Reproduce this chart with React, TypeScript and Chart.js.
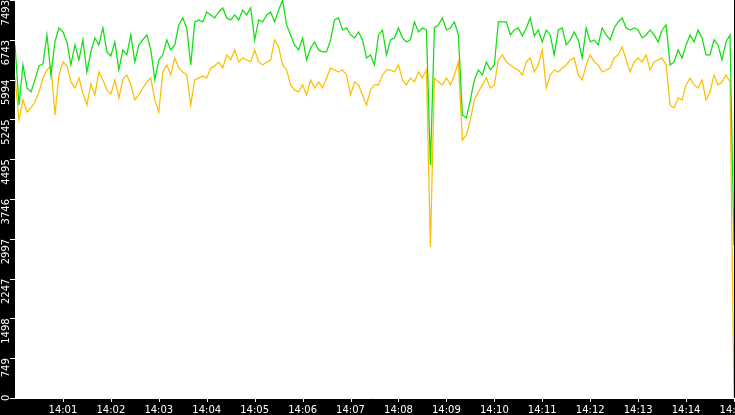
import { useEffect, useRef } from 'react';
import { Chart, registerables, Plugin } from 'chart.js';

Chart.register(...registerables);

// one sample every 5 seconds from 14:00:00 to 14:15:00
const SAMPLE_SECONDS = 5;
const X_MAX_SECONDS = 900;
const X_TICK_LABELS = [
	'14:01', '14:02', '14:03', '14:04', '14:05', '14:06', '14:07', '14:08',
	'14:09', '14:10', '14:11', '14:12', '14:13', '14:14', '14:15',
];

const Y_MAX = 7493;
const Y_TICK_LABELS = ['0', '749', '1498', '2247', '2997', '3746', '4495', '5245', '5994', '6743', '7493'];

const GREEN = [
	6647, 5517, 6270, 5837, 5762, 5988, 6252, 6289, 6835, 6082, 6704, 6967, 6892, 6704, 6270, 6647,
	6364, 6741, 6138, 6516, 6779, 6647, 6967, 6516, 6440, 6704, 6176, 6553, 6459, 6835, 6327,
	6647, 6741, 6835, 6553, 5988, 6364, 6459, 6741, 6553, 6647, 7024, 7155, 6967, 6270, 7080, 7118,
	7080, 7268, 7212, 7155, 7268, 7343, 7155, 7118, 7212, 7118, 7306, 7212,
	7343, 6741, 7118, 7080, 7212, 7268, 7080, 7306, 7493, 7024, 6835, 6647, 6553, 6779, 6364, 6591,
	6704, 6553, 6516, 6516, 6741, 7118, 7155, 6929, 6967, 6835, 6779, 6892, 6741, 6402, 6459, 6270,
	6835, 6929, 6459,
	6741, 6779, 6967, 6779, 6704, 6741, 7080, 6892, 6967, 6929, 4387, 6967, 7024, 7155, 6929, 6967,
	7080, 6835, 5329, 5273, 5611, 5988, 6176, 6082, 6327, 6176, 6270, 7080, 7080,
	7080, 6835, 6929, 6967, 6817, 6967, 7155, 6817, 6929, 6704, 6929, 6835, 6459, 6929, 6967, 6647,
	6741, 6892, 6741, 6402, 6967, 6704, 6741, 6647, 6967, 6835,
	6741, 6967, 7080, 7155, 6967, 6929, 6967, 6929, 6779, 6835, 6929, 6835, 6704, 6929, 7024, 6270,
	6327, 6553, 6402, 6647, 6835, 6704, 6929, 6779, 6459, 6459, 6741, 6647, 6364, 6704, 6835, 2881,
];

const ORANGE = [
	6044, 5235, 5611, 5385, 5461, 5574, 5762, 6026, 6176, 6252, 5329, 6082, 6327, 6252, 5950, 5837,
	6026, 5743, 5517, 5912, 5705, 6138, 5988, 5800, 5724, 5988, 5649, 6000, 6082, 5894, 5611,
	5705, 5837, 5950, 6026, 5611, 5385, 6138, 6270, 6082, 6402, 6214, 6138, 6082, 5517, 5988, 6026,
	6063, 6026, 6214, 6252, 6327, 6214, 6459, 6364, 6553, 6327, 6402, 6364,
	6327, 6553, 6327, 6270, 6327, 6364, 6741, 6610, 6270, 6176, 5894, 5800, 5762, 5894, 5705, 5988,
	5837, 5950, 5837, 6026, 6214, 6176, 6138, 6176, 6082, 5705, 5950, 5894, 5705, 5517, 5800, 5894,
	5894, 6082, 6176,
	6176, 6138, 6270, 5988, 5894, 6026, 5950, 6138, 6026, 6176, 2843, 6026, 5950, 5894, 6026, 5894,
	6082, 6327, 4858, 4952, 5235, 5611, 5762, 5894, 6026, 5837, 5894, 6364, 6459,
	6327, 6270, 6214, 6176, 6082, 6327, 6402, 6138, 6270, 6553, 5837, 6082, 6176, 6138, 6214, 6270,
	6364, 6402, 6082, 5988, 6270, 6459, 6327, 6270, 6138, 6176,
	6214, 6402, 6459, 6610, 6364, 6138, 6327, 6402, 6327, 6459, 6176, 6327, 6364, 6402, 6270, 5517,
	5461, 5649, 5611, 5894, 6026, 5894, 5837, 5988, 5611, 5762, 6082, 5894, 5950, 6082, 5950, 0,
];

const FONT = '10px "DejaVu Sans"';

// black frame, white plot, white ticks and rotated y labels
const framePlugin: Plugin<'line'> = {
	id: 'frame',
	beforeDraw(chart) {
		const { ctx, width, height, chartArea: a } = chart;
		ctx.save();
		ctx.fillStyle = '#000';
		ctx.fillRect(0, 0, width, height);
		ctx.fillStyle = '#fff';
		ctx.fillRect(a.left, a.top, a.right - a.left, a.bottom - a.top);
		ctx.restore();
	},
	afterDraw(chart) {
		const { ctx, chartArea: a, scales } = chart;
		const xs = scales.x;
		const ys = scales.y;
		ctx.save();
		ctx.strokeStyle = '#fff';
		ctx.fillStyle = '#fff';
		ctx.lineWidth = 1;
		ctx.font = FONT;

		ctx.beginPath();
		ctx.moveTo(10, a.bottom + 0.5);
		ctx.lineTo(chart.width, a.bottom + 0.5);

		Y_TICK_LABELS.forEach((_, i) => {
			const y = Math.round(ys.getPixelForValue((i * Y_MAX) / 10)) + 0.5;
			ctx.moveTo(10, y);
			ctx.lineTo(a.left, y);
		});
		X_TICK_LABELS.forEach((_, i) => {
			const x = Math.round(xs.getPixelForValue((i + 1) * 60)) + 0.5;
			ctx.moveTo(x, a.bottom);
			ctx.lineTo(x, a.bottom + 4);
		});
		ctx.stroke();

		ctx.textAlign = 'center';
		ctx.textBaseline = 'alphabetic';
		X_TICK_LABELS.forEach((label, i) => {
			ctx.fillText(label, xs.getPixelForValue((i + 1) * 60), 413);
		});

		ctx.textAlign = 'right';
		Y_TICK_LABELS.forEach((label, i) => {
			let y = ys.getPixelForValue((i * Y_MAX) / 10);
			const w = ctx.measureText(label).width;
			if (y + w > a.bottom + 3) y = a.bottom + 3 - w;
			ctx.save();
			ctx.translate(9, y);
			ctx.rotate(-Math.PI / 2);
			ctx.fillText(label, 0, 0);
			ctx.restore();
		});
		ctx.restore();
	},
};

const App = () => {
	const canvasRef = useRef<HTMLCanvasElement | null>(null);

	useEffect(() => {
		document.body.style.margin = '0';
		const canvas = canvasRef.current;
		if (!canvas) return;

		const chart = new Chart(canvas, {
			type: 'line',
			data: {
				datasets: [
					{
						label: 'green',
						data: GREEN.map((v, i) => ({ x: i * SAMPLE_SECONDS, y: v })),
						borderColor: '#0ee00e',
						borderWidth: 1.25,
						pointRadius: 0,
						tension: 0,
					},
					{
						label: 'orange',
						data: ORANGE.map((v, i) => ({ x: i * SAMPLE_SECONDS, y: v })),
						borderColor: '#fcbf00',
						borderWidth: 1.25,
						pointRadius: 0,
						tension: 0,
					},
				],
			},
			options: {
				animation: false,
				responsive: false,
				layout: { padding: { left: 15, right: 1, top: 0, bottom: 17 } },
				plugins: {
					legend: { display: false },
					tooltip: { enabled: false },
				},
				scales: {
					x: { type: 'linear', display: false, min: 0, max: X_MAX_SECONDS },
					y: { type: 'linear', display: false, min: 0, max: Y_MAX },
				},
			},
			plugins: [framePlugin],
		});

		return () => chart.destroy();
	}, []);

	return (
		<div style={{ width: 735, height: 415 }}>
			<canvas ref={canvasRef} width={735} height={415}></canvas>
		</div>
	);
};

export default App;
